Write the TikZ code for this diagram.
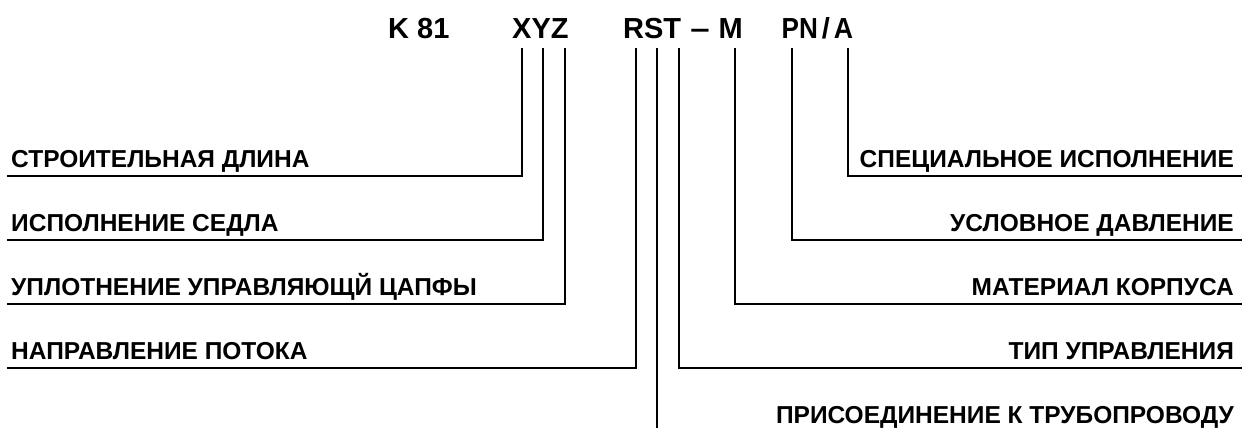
\documentclass[tikz,border=0pt]{standalone}
\usepackage{fontspec}
\setmainfont{Liberation Sans}
\begin{document}
\begin{tikzpicture}[x=1pt,y=-1pt,
  code/.style={font=\fontsize{29}{29}\selectfont\bfseries, inner sep=0pt, anchor=base west},
  lbl/.style={font=\fontsize{24.5}{24.5}\selectfont\bfseries, inner sep=0pt},
  lead/.style={line width=1.9pt}]
\useasboundingbox (0,0) rectangle (1242,428);

% type code
\node[code] (k81) at (388,39) {K 81};
\node[code] (xyz) at (512,39) {XYZ};
\node[code] (rst) at (623,39) {RST};
\node[code, anchor=base] (dash) at (700,39) {\scalebox{1.2}[1]{–}};
\node[code, anchor=base east] (mat) at (743,39) {M};
\node[code] (pn) at (781.5,39) {\scalebox{0.9}[1]{PN}};
\node[code, anchor=base] (sl) at (826,39) {/};
\node[code, anchor=base east] (spa) at (853.3,39) {\scalebox{0.92}[1]{A}};

% tick start points under the code letters
\coordinate (cX) at (521.7,48);
\coordinate (cY) at (543.3,48);
\coordinate (cZ) at (565.3,48);
\coordinate (cR) at (635.7,48);
\coordinate (cS) at (656.8,48);
\coordinate (cT) at (679,48);
\coordinate (cM) at (735,48);
\coordinate (cN) at (792,48);
\coordinate (cA) at (848,48);
\coordinate (sEnd) at (656.8,428);

% left labels
\node[lbl, anchor=base west] (l1) at (11,167.5) {СТРОИТЕЛЬНАЯ ДЛИНА};
\node[lbl, anchor=base west] (l2) at (11,231.5) {ИСПОЛНЕНИЕ СЕДЛА};
\node[lbl, anchor=base west] (l3) at (11,295.5) {УПЛОТНЕНИЕ УПРАВЛЯЮЩЙ ЦАПФЫ};
\node[lbl, anchor=base west] (l4) at (11,359.5) {НАПРАВЛЕНИЕ ПОТОКА};

% right labels
\node[lbl, anchor=base east] (r1) at (1234,167.5) {СПЕЦИАЛЬНОЕ ИСПОЛНЕНИЕ};
\node[lbl, anchor=base east] (r2) at (1234,231.5) {УСЛОВНОЕ ДАВЛЕНИЕ};
\node[lbl, anchor=base east] (r3) at (1234,295.5) {МАТЕРИАЛ КОРПУСА};
\node[lbl, anchor=base east] (r4) at (1234,359.5) {ТИП УПРАВЛЕНИЯ};
\node[lbl, anchor=base east] (r5) at (1234,423.5) {ПРИСОЕДИНЕНИЕ К ТРУБОПРОВОДУ};

% leader lines
\draw[lead] (cX) |- ([xshift=-4pt,yshift=-8.5pt]l1.base west);
\draw[lead] (cY) |- ([xshift=-4pt,yshift=-8.5pt]l2.base west);
\draw[lead] (cZ) |- ([xshift=-4pt,yshift=-8.5pt]l3.base west);
\draw[lead] (cR) |- ([xshift=-4pt,yshift=-8.5pt]l4.base west);
\draw[lead] (cA) |- ([xshift=8pt,yshift=-8.5pt]r1.base east);
\draw[lead] (cN) |- ([xshift=8pt,yshift=-8.5pt]r2.base east);
\draw[lead] (cM) |- ([xshift=8pt,yshift=-8.5pt]r3.base east);
\draw[lead] (cT) |- ([xshift=8pt,yshift=-8.5pt]r4.base east);
\draw[lead] (cS) -- (sEnd);
\end{tikzpicture}
\end{document}
